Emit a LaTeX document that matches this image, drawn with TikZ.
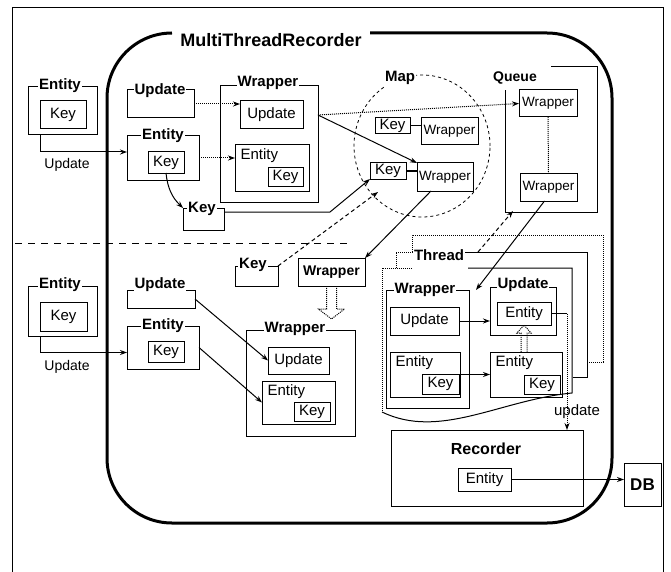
\documentclass[tikz,border=0pt]{standalone}
\usepackage{fontspec}
\setmainfont{Liberation Sans}
\usetikzlibrary{arrows.meta,shapes.geometric}
\newcommand\mybox[7][]{\pgfmathsetmacro\bxw{#5-#3}\pgfmathsetmacro\bxh{#6-#4}\pgfmathsetmacro\bxx{(#3+#5)/2}\pgfmathsetmacro\bxy{(#4+#6)/2}\node[box,minimum width=\bxw pt,minimum height=\bxh pt,#1] (#2) at (\bxx,\bxy) {#7};}
\begin{document}
\begin{tikzpicture}[x=1pt,y=-1pt,line width=1pt,
  box/.style={draw,inner sep=0pt,outer sep=0pt,font=\fontsize{15}{17}\selectfont},
  sbox/.style={box,font=\fontsize{13.5}{15}\selectfont},
  blab/.style={fill=white,inner sep=1pt,font=\bfseries\fontsize{15}{17}\selectfont},
  txt/.style={inner sep=1pt,font=\fontsize{15}{17}\selectfont},
  arr/.style={-{Stealth[length=7pt,width=5pt]}},
  darr/.style={arr,densely dotted},
  dsharr/.style={arr,dash pattern=on 4pt off 3pt},
  mtr/.style={line width=3pt},
  hollow/.style={densely dotted}
]
\useasboundingbox (0,0) rectangle (671,572);
% outer frame
\draw (12,572) -- (12,8) -- (663,8) -- (663,572);
% MultiThreadRecorder frame
\draw[mtr,rounded corners=65pt] (172,33) -- (107,33) -- (107,523) -- (612,523) -- (612,33) -- (370,33);
\node[font=\bfseries\fontsize{18}{20}\selectfont] (title) at (271,40) {MultiThreadRecorder};
% separator
\draw[dash pattern=on 7pt off 6pt] (15,243) -- (350,243);

% upper left
\mybox{eA}{28}{87}{97}{135}{}
\node[blab] (eAl) at (60,86) {Entity};
\mybox{kA}{40}{101}{86}{129}{Key}
\node[txt,font=\fontsize{14}{16}\selectfont] (uAl) at (67,165) {Update};

% upper middle column
\mybox{uB}{127}{90}{194}{118}{}
\node[blab] (uBl) at (160,91) {Update};
\mybox{eB}{127}{136}{199}{180}{}
\node[blab] (eBl) at (163,136) {Entity};
\mybox{kB}{148}{152}{184}{173}{Key}
\mybox{kC}{183}{208}{224}{230}{}
\node[blab] (kCl) at (202,209) {Key};
\coordinate (bendK) at (330,212);

% upper Wrapper
\mybox{wA}{220}{86}{318}{202}{}
\node[blab] (wAl) at (268,83) {Wrapper};
\mybox{uW}{240}{101}{303}{129}{Update}
\mybox{eW}{235}{145}{309}{191}{}
\node[txt,anchor=north west] (eWt) at ([xshift=4pt,yshift=-2pt]eW.north west) {Entity};
\mybox{kW}{268}{168}{303}{186}{Key}

% Map
\node[ellipse,draw,dashed,line width=0.8pt,minimum width=136pt,minimum height=142pt,inner sep=0pt] (map) at (422,146) {};
\node[blab] (mapl) at (400,78) {Map};
\mybox{kM1}{375}{118}{410}{134}{Key}
\mybox[sbox]{wM1}{421}{118}{478}{145}{Wrapper}
\mybox{kM2}{370}{163}{406}{179}{Key}
\mybox[sbox]{wM2}{417}{163}{473}{191}{Wrapper}
\draw (kM1.east) -- (kM1.east -| wM1.west);
\draw (kM2.east) -- (kM2.east -| wM2.west);

% Queue
\draw (551,67) -- (597,67) -- (597,212) -- (505,212) -- (505,90);
\node[blab,font=\bfseries\fontsize{14}{16}\selectfont] (queuel) at (515,78) {Queue};
\mybox[sbox]{qW1}{519}{90}{577}{117}{Wrapper}
\mybox[sbox]{qW2}{520}{173}{577}{201}{Wrapper}
\draw[densely dotted] (qW1.south) -- (qW2.north);
\coordinate (qTip) at (513,211);

% lower middle
\mybox{kD}{235}{266}{278}{286}{}
\node[blab] (kDl) at (253,265) {Key};
\mybox[font=\bfseries\fontsize{14}{16}\selectfont]{wB}{298}{258}{365}{286}{Wrapper}
\coordinate (keyTip) at (378,192);

\mybox{wC}{246}{330}{355}{436}{}
\node[blab] (wCl) at (295,329) {Wrapper};
\mybox{uC}{268}{347}{329}{374}{Update}
\mybox{eC}{262}{381}{335}{424}{}
\node[txt,anchor=north west] (eCt) at ([xshift=4pt,yshift=-2pt]eC.north west) {Entity};
\mybox{kCC}{294}{402}{330}{421}{Key}

% lower left
\mybox{eD}{28}{286}{97}{336}{}
\node[blab] (eDl) at (60,285) {Entity};
\mybox{kDL}{40}{302}{87}{331}{Key}
\node[txt,font=\fontsize{14}{16}\selectfont] (uDl) at (67,367) {Update};
\mybox{uE}{127}{290}{195}{308}{}
\node[blab] (uEl) at (160,285) {Update};
\mybox{eE}{127}{326}{199}{369}{}
\node[blab] (eEl) at (163,326) {Entity};
\mybox{kE}{148}{341}{184}{362}{Key}

% Thread frames
\draw[densely dotted] (412,252) -- (412,235) -- (603,235) -- (603,362) -- (588,362);
\draw[densely dotted] (396,268) -- (396,252) -- (412,252);
\draw (412,252) -- (587,252) -- (587,377) -- (573,377);
\node[blab] (thrl) at (439,255) {Thread};
\coordinate (thrTop) at (478,252);
\draw[densely dotted] (412,268) -- (382,268) -- (382,412);
\draw (468,268) -- (572,268) -- (572,393) .. controls (500,400) and (440,440) .. (382,412);

\mybox{tW}{386}{290}{469}{408}{}
\node[blab] (tWl) at (425,290) {Wrapper};
\mybox{tU}{390}{307}{459}{335}{Update}
\mybox{tE}{390}{352}{460}{397}{}
\node[txt,anchor=north west] (tEt) at ([xshift=4pt,yshift=-2pt]tE.north west) {Entity};
\mybox{tKa}{422}{374}{459}{394}{Key}
\mybox{tUp}{490}{287}{556}{335}{}
\node[blab] (tUpl) at (523,285) {Update};
\mybox{tUE}{497}{302}{551}{325}{Entity}
\mybox{tEn}{490}{352}{562}{397}{}
\node[txt,anchor=north west] (tEnt) at ([xshift=4pt,yshift=-2pt]tEn.north west) {Entity};
\mybox{tKb}{524}{375}{560}{394}{Key}
\coordinate (hB) at (tUE.south |- tEn.north);

% Recorder, DB
\mybox{rec}{391}{430}{583}{506}{}
\node[txt,font=\bfseries\fontsize{16}{18}\selectfont] (recl) at (486,449) {Recorder};
\mybox{recE}{458}{468}{511}{491}{Entity}
\mybox[font=\bfseries\fontsize{17}{19}\selectfont]{db}{624}{463}{661}{506}{DB}
\coordinate (updX) at (567,0);
\node[txt] (updl) at (577,412) {update};

% connectors
\draw[arr] (eA.south -| kA.west) |- ([yshift=6pt]eB.west);
\draw[arr] (eD.south -| kDL.west) |- ([yshift=-5pt]eE.west);
\draw[darr] (uB.east) -- (uB.east -| uW.west);
\draw[darr] (eB.east) -- (eB.east -| eW.west);
\draw[arr] (kB.south) to[bend right=20] (kC.north west);
\draw[arr] ([yshift=7pt]kC.east) -- (bendK) -- (kM2.south west);
\coordinate (wAo) at (wA.east |- uW.east);
\draw[arr] (wAo) -- (wM2.north west);
\draw[darr] (wAo) -- (qW1.west);
\draw[arr] ([xshift=-14pt]wM2.south) -- (wB.north east);
\draw[dsharr] (kD.north east) -- (keyTip);
\draw[hollow] ([xshift=-5pt]wB.south) -- ++(0,23) -- ++(-8,0) -- ++(13,10) -- ++(13,-10) -- ++(-8,0) -- ([xshift=5pt]wB.south);
\draw[arr] (uE.east) -- (uC.west);
\draw[arr] (eE.east) -- (eC.west);
\draw[dsharr] (thrTop) -- (qTip);
\draw[arr] ([xshift=-4pt]qW2.south) -- ([xshift=7pt]tW.north east);
\draw[arr] (tU.east) -- (tU.east -| tUp.west);
\draw[arr] (tE.east) -- (tE.east -| tEn.west);
\draw[hollow] ([xshift=-3pt]hB) -- ++(0,-19) -- ++(-4,0) -- ++(7,-8) -- ++(7,8) -- ++(-4,0) -- ([xshift=3pt]hB);
\draw (tUE.east) -- (tUE.east -| updX);
\draw[darr] (tUE.east -| updX) -- (updX |- rec.north);
\draw[arr] (recE.east) -- (recE.east -| db.west);
\end{tikzpicture}
\end{document}
